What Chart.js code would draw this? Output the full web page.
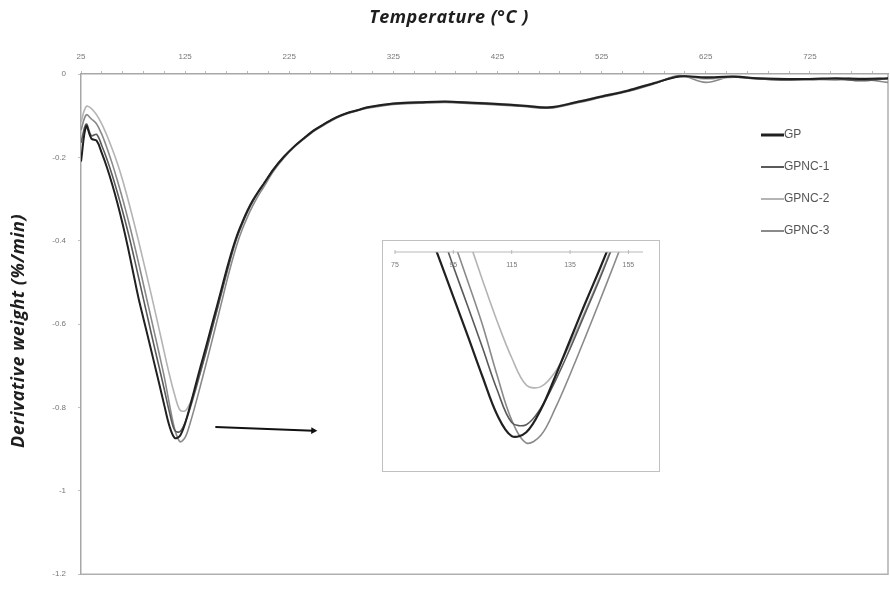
<!DOCTYPE html>
<html>
<head>
<meta charset="utf-8">
<script src="https://cdn.jsdelivr.net/npm/chart.js@4.4.0/dist/chart.umd.min.js"></script>
<style>
  html, body { margin: 0; padding: 0; background: #fff; }
  #wrap { position: relative; width: 890px; height: 591px; }
  #mainChart { position: absolute; left: 0; top: 0; }
  #insetBox { position: absolute; left: 382px; top: 240px; width: 276px; height: 230px;
              border: 1px solid #c0c0c0; background: #fff; }
</style>
</head>
<body>
<div id="wrap">
  <canvas id="mainChart" width="890" height="591"></canvas>
  <div id="insetBox"><canvas id="insetChart" width="276" height="230"></canvas></div>
</div>
<script>
// DTG curves: derivative weight vs temperature, with a zoomed inset of the main peak

const temps = [25, 30, 35, 40, 45, 50, 55, 60, 65, 70, 75, 80, 85, 90, 95, 100, 105, 110, 115, 120,
  125, 130, 135, 140, 145, 150, 155, 160, 165, 170, 175, 180, 185, 190, 195, 200,
  210, 220, 230, 240, 250, 260, 270, 280, 290, 300,
  325, 350, 375, 400, 425, 450, 475, 500, 525, 550, 575, 600, 625, 650, 675, 700, 725, 750, 775, 800];

const gp = [-0.21, -0.125, -0.155, -0.16, -0.19, -0.225, -0.265, -0.31, -0.36, -0.415, -0.475, -0.535, -0.587, -0.638, -0.69, -0.742, -0.795, -0.845, -0.873, -0.868,
  -0.838, -0.794, -0.747, -0.70, -0.655, -0.608, -0.562, -0.515, -0.468, -0.424, -0.386, -0.355, -0.327, -0.303, -0.283, -0.265,
  -0.228, -0.198, -0.173, -0.152, -0.133, -0.118, -0.104, -0.094, -0.087, -0.080,
  -0.071, -0.068, -0.066, -0.069, -0.072, -0.076, -0.080, -0.068, -0.054, -0.040, -0.022, -0.006, -0.008, -0.006, -0.010, -0.012, -0.012, -0.010, -0.012, -0.010];

const gpnc1 = [-0.165, -0.12, -0.148, -0.145, -0.172, -0.205, -0.243, -0.285, -0.33, -0.378, -0.43, -0.485, -0.54, -0.595, -0.65, -0.703, -0.757, -0.812, -0.855, -0.858,
  -0.836, -0.8, -0.758, -0.713, -0.668, -0.62, -0.573, -0.525, -0.477, -0.431, -0.391, -0.359, -0.33, -0.306, -0.285, -0.266,
  -0.229, -0.199, -0.174, -0.153, -0.134, -0.119, -0.105, -0.095, -0.088, -0.081,
  -0.072, -0.069, -0.067, -0.070, -0.073, -0.077, -0.081, -0.069, -0.055, -0.041, -0.023, -0.005, -0.010, -0.007, -0.012, -0.014, -0.013, -0.012, -0.016, -0.011];

const gpnc2 = [-0.115, -0.078, -0.083, -0.098, -0.12, -0.148, -0.18, -0.215, -0.255, -0.30, -0.348, -0.398, -0.45, -0.503, -0.557, -0.612, -0.668, -0.722, -0.77, -0.806,
  -0.808, -0.788, -0.752, -0.71, -0.665, -0.618, -0.57, -0.522, -0.474, -0.428, -0.388, -0.356, -0.328, -0.304, -0.284, -0.266,
  -0.228, -0.198, -0.173, -0.152, -0.133, -0.118, -0.104, -0.094, -0.087, -0.080,
  -0.070, -0.067, -0.066, -0.068, -0.071, -0.075, -0.079, -0.067, -0.053, -0.039, -0.021, -0.006, -0.012, -0.008, -0.010, -0.011, -0.014, -0.012, -0.010, -0.012];

const gpnc3 = [-0.135, -0.098, -0.108, -0.12, -0.145, -0.178, -0.215, -0.256, -0.30, -0.347, -0.397, -0.45, -0.505, -0.56, -0.615, -0.67, -0.727, -0.793, -0.852, -0.882,
  -0.872, -0.836, -0.792, -0.745, -0.697, -0.648, -0.598, -0.548, -0.497, -0.45, -0.407, -0.372, -0.342, -0.316, -0.293, -0.273,
  -0.233, -0.201, -0.175, -0.154, -0.135, -0.12, -0.106, -0.096, -0.088, -0.082,
  -0.073, -0.070, -0.068, -0.071, -0.074, -0.078, -0.082, -0.070, -0.056, -0.042, -0.024, -0.004, -0.020, -0.006, -0.011, -0.015, -0.012, -0.014, -0.013, -0.020];

const seriesNames = ['GP', 'GPNC-1', 'GPNC-2', 'GPNC-3'];
const seriesData = [gp, gpnc1, gpnc2, gpnc3];
const seriesColors = ['#202020', '#5a5a5a', '#b4b4b4', '#8a8a8a'];

const xTickValues = [25, 125, 225, 325, 425, 525, 625, 725];
const xMinorStep = 20;
const insetTickValues = [75, 95, 115, 135, 155];

// arrow pointing from the main peak to the inset (data coordinates)
const arrowFrom = [154, -0.847];
const arrowTo = [252, -0.856];

function makeDatasets(widths) {
  return seriesNames.map((name, i) => ({
    label: name,
    data: temps.map((t, j) => ({ x: t, y: seriesData[i][j] })),
    borderColor: seriesColors[i],
    borderWidth: widths[i],
    pointRadius: 0,
    fill: false,
    tension: 0.35
  }));
}

const smallFont = { family: 'Liberation Sans', size: 8 };

// plot frame on right and bottom
const framePlugin = {
  id: 'frame',
  beforeDatasetsDraw(chart) {
    const a = chart.chartArea, ctx = chart.ctx;
    ctx.save();
    ctx.strokeStyle = '#b0b0b0';
    ctx.lineWidth = 1.5;
    ctx.beginPath();
    ctx.moveTo(a.right, a.top);
    ctx.lineTo(a.right, a.bottom);
    ctx.lineTo(a.left, a.bottom);
    ctx.stroke();
    ctx.restore();
  }
};

// axis titles, legend, arrow
const extrasPlugin = {
  id: 'extras',
  afterDraw(chart) {
    const ctx = chart.ctx;
    const xs = chart.scales.x, ys = chart.scales.y;
    ctx.save();
    ctx.fillStyle = '#1e1e1e';
    ctx.font = 'italic bold 18px "Open Sans"';
    ctx.letterSpacing = '0.5px';
    ctx.textAlign = 'center';
    ctx.textBaseline = 'middle';
    ctx.fillText('Temperature (°C )', 449, 18);
    ctx.translate(19, 331);
    ctx.rotate(-Math.PI / 2);
    ctx.fillText('Derivative weight (%/min)', 0, 0);
    ctx.restore();

    // legend
    ctx.save();
    ctx.font = '12px "Liberation Sans"';
    ctx.textBaseline = 'middle';
    ctx.textAlign = 'left';
    seriesNames.forEach((name, i) => {
      const y = 135 + i * 32;
      ctx.strokeStyle = seriesColors[i];
      ctx.lineWidth = i === 0 ? 3 : 2;
      ctx.beginPath();
      ctx.moveTo(761, y);
      ctx.lineTo(784, y);
      ctx.stroke();
      ctx.fillStyle = '#555';
      ctx.fillText(name, 784, y);
    });
    ctx.restore();

    // arrow
    const x1 = xs.getPixelForValue(arrowFrom[0]), y1 = ys.getPixelForValue(arrowFrom[1]);
    const x2 = xs.getPixelForValue(arrowTo[0]), y2 = ys.getPixelForValue(arrowTo[1]);
    ctx.save();
    ctx.strokeStyle = '#111';
    ctx.fillStyle = '#111';
    ctx.lineWidth = 2;
    ctx.beginPath();
    ctx.moveTo(x1, y1);
    ctx.lineTo(x2 - 4, y2);
    ctx.stroke();
    const ang = Math.atan2(y2 - y1, x2 - x1);
    ctx.beginPath();
    ctx.moveTo(x2, y2);
    ctx.lineTo(x2 - 7 * Math.cos(ang - 0.5), y2 - 7 * Math.sin(ang - 0.5));
    ctx.lineTo(x2 - 7 * Math.cos(ang + 0.5), y2 - 7 * Math.sin(ang + 0.5));
    ctx.closePath();
    ctx.fill();
    ctx.restore();
  }
};

new Chart(document.getElementById('mainChart'), {
  type: 'line',
  data: { datasets: makeDatasets([2, 1.6, 1.6, 1.6]) },
  options: {
    responsive: false,
    animation: false,
    layout: { padding: { left: 0, top: 0, right: 2, bottom: 8 } },
    plugins: { legend: { display: false }, tooltip: { enabled: false } },
    scales: {
      x: {
        type: 'linear',
        position: 'top',
        min: 25,
        max: 800,
        afterBuildTicks: s => {
          const t = [];
          for (let v = xTickValues[0]; v < s.max; v += xMinorStep) t.push({ value: v });
          s.ticks = t;
        },
        afterFit: s => { s.height = 74; },
        ticks: {
          font: smallFont, color: '#777', padding: 9, maxRotation: 0, autoSkip: false,
          callback: v => (xTickValues.includes(v) ? String(v) : '')
        },
        grid: { drawOnChartArea: false, tickLength: 3, color: '#b8b8b8' },
        border: { color: '#a8a8a8', width: 1.5 }
      },
      y: {
        min: -1.2,
        max: 0,
        afterFit: s => { s.width = 81; },
        ticks: {
          stepSize: 0.2, font: smallFont, color: '#777', padding: 12,
          callback: v => String(Math.round(v * 10) / 10)
        },
        grid: { drawOnChartArea: false, tickLength: 3, color: '#c0c0c0' },
        border: { color: '#a8a8a8', width: 1.5 }
      }
    }
  },
  plugins: [framePlugin, extrasPlugin]
});

// inset: axis line along the top with labels underneath
const insetAxisPlugin = {
  id: 'insetAxis',
  afterDraw(chart) {
    const a = chart.chartArea, ctx = chart.ctx, xs = chart.scales.x;
    ctx.save();
    ctx.strokeStyle = '#b8b8b8';
    ctx.lineWidth = 1;
    ctx.beginPath();
    ctx.moveTo(a.left, a.top);
    ctx.lineTo(a.right, a.top);
    insetTickValues.forEach(v => {
      const px = xs.getPixelForValue(v);
      ctx.moveTo(px, a.top - 2);
      ctx.lineTo(px, a.top + 2);
    });
    ctx.stroke();
    ctx.fillStyle = '#777';
    ctx.font = '7px "Liberation Sans"';
    ctx.textAlign = 'center';
    ctx.textBaseline = 'middle';
    insetTickValues.forEach(v => {
      ctx.fillText(String(v), xs.getPixelForValue(v), a.top + 13);
    });
    ctx.restore();
  }
};

new Chart(document.getElementById('insetChart'), {
  type: 'line',
  data: { datasets: makeDatasets([2.2, 1.6, 1.6, 1.6]) },
  options: {
    responsive: false,
    animation: false,
    layout: { padding: { left: 12, top: 11, right: 16, bottom: 6 } },
    plugins: { legend: { display: false }, tooltip: { enabled: false } },
    scales: {
      x: { type: 'linear', display: false, min: 75, max: 160 },
      y: { display: false, min: -0.911, max: -0.631 }
    }
  },
  plugins: [insetAxisPlugin]
});
</script>
</body>
</html>
